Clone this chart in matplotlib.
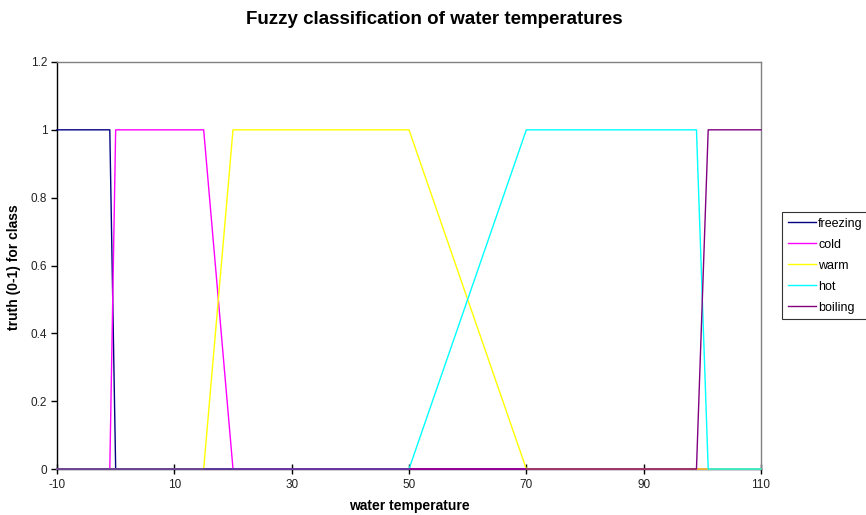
import numpy as np
import matplotlib
matplotlib.use('Agg')
import matplotlib.pyplot as plt
from matplotlib.ticker import FormatStrFormatter

plt.rcParams['font.family'] = ['Liberation Sans', 'DejaVu Sans']
plt.rcParams['axes.unicode_minus'] = False

#membership breakpoints (temperature, truth)
names = ['freezing', 'cold', 'warm', 'hot', 'boiling']
colors = ['#000080', '#FF00FF', '#FFFF00', '#00FFFF', '#800080']
freezing_x = [-10, -1, 0, 110]
freezing_y = [1, 1, 0, 0]
cold_x = [-10, -1, 0, 15, 20, 110]
cold_y = [0, 0, 1, 1, 0, 0]
warm_x = [-10, 15, 20, 50, 70, 110]
warm_y = [0, 0, 1, 1, 0, 0]
hot_x = [-10, 50, 70, 99, 101, 110]
hot_y = [0, 0, 1, 1, 0, 0]
boiling_x = [-10, 99, 101, 110]
boiling_y = [0, 0, 1, 1]

xticks = [-10, 10, 30, 50, 70, 90, 110]
yticks = [0, 0.2, 0.4, 0.6, 0.8, 1.0, 1.2]

fig = plt.figure(figsize=(8.66, 5.15), dpi=100)
ax = fig.add_axes([57/866, 1-469/515, (761-57)/866, (469-62)/515])

series = [(freezing_x, freezing_y), (cold_x, cold_y), (warm_x, warm_y),
          (hot_x, hot_y), (boiling_x, boiling_y)]
for (xs, ys), name, c in zip(series, names, colors):
    ax.plot(xs, ys, color=c, lw=1.0, label=name, clip_on=False, zorder=3)

ax.set_xlim(-10, 110)
ax.set_ylim(0, 1.2)
ax.set_xticks(xticks)
ax.set_yticks(yticks)
ax.yaxis.set_major_formatter(FormatStrFormatter('%g'))
ax.tick_params(axis='x', direction='inout', length=7, width=1, labelsize=8.5,
               pad=4, labelcolor='#222222')
ax.tick_params(axis='y', direction='out', length=4, width=1, labelsize=8.5,
               pad=3, labelcolor='#222222')

ax.spines['left'].set_color('black')
ax.spines['bottom'].set_color('black')
ax.spines['top'].set_color('#808080')
ax.spines['right'].set_color('#808080')
for s in ax.spines.values():
    s.set_linewidth(1)

fig.text(434/866, 1-20/515, 'Fuzzy classification of water temperatures',
         ha='center', va='center', fontsize=13.5, fontweight='bold')
fig.text(409/866, 1-506/515, 'water temperature', ha='center', va='center',
         fontsize=10, fontweight='bold')
fig.text(14/866, 1-267/515, 'truth (0-1) for class', ha='center', va='center',
         fontsize=10, fontweight='bold', rotation=90)

leg = ax.legend(loc='upper left', bbox_to_anchor=(782/866, 1-212/515),
                bbox_transform=fig.transFigure, fontsize=9, frameon=True,
                fancybox=False, edgecolor='black', borderpad=0.45,
                labelspacing=0.72, handlelength=2.3, handletextpad=0.15,
                borderaxespad=0)
leg.get_frame().set_linewidth(0.8)

plt.savefig('out.png', dpi=100)
